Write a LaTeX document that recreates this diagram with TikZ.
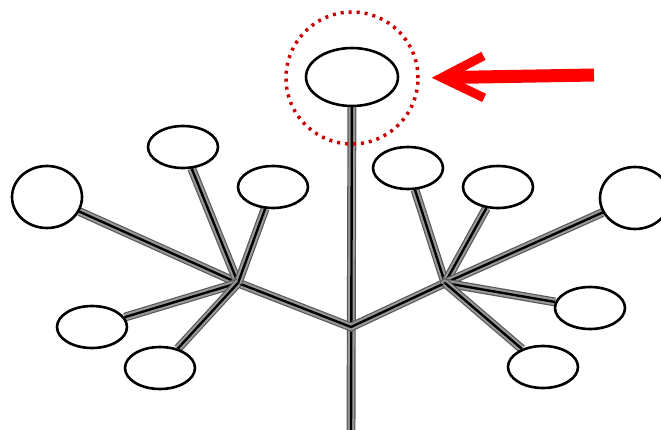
\documentclass[tikz,border=0pt]{standalone}
\usetikzlibrary{shapes.geometric,arrows.meta,backgrounds}

\tikzset{
  bud/.style={ellipse, draw=black, line width=2.6pt, fill=white, inner sep=0pt, minimum width=70pt, minimum height=42pt},
  bigbud/.style={bud, minimum height=62pt},
  stalk/.style={line width=2.4pt, black, preaction={draw=black!65, double=black!40, double distance=6.5pt, line width=1.2pt}},
}

\begin{document}
\begin{tikzpicture}[x=1pt, y=-1pt]

  \clip (0,0) rectangle (661,429);

  % junctions
  \coordinate (jc) at (351,327);
  \coordinate (jl) at (238,283);
  \coordinate (jr) at (445,283);
  \coordinate (foot) at (351,435);

  % buds
  \node[bud, minimum width=92pt, minimum height=58pt] (top) at (352,77) {};
  \node[bigbud] (l1) at (47,197) {};
  \node[bud] (l2) at (183,147) {};
  \node[bud] (l3) at (273,187) {};
  \node[bud] (l4) at (92,327) {};
  \node[bud] (l5) at (160,368) {};
  \node[bud] (r1) at (408,168) {};
  \node[bud] (r2) at (498,187) {};
  \node[bigbud] (r3) at (635,198) {};
  \node[bud] (r4) at (590,308) {};
  \node[bud] (r5) at (543,367) {};

  % stalks
  \begin{scope}[on background layer]
    \draw[stalk, preaction={double distance=8.5pt}] (top) -- (foot);
    \draw[stalk] (jl) -- (jc) -- (jr);
    \foreach \b in {l1,l2,l3,l4,l5}
      \draw[stalk] (jl) -- (\b);
    \foreach \b in {r1,r2,r3,r4,r5}
      \draw[stalk] (jr) -- (\b);
  \end{scope}

  % highlight
  \node[circle, draw=red!80!black, line width=3.5pt, dash pattern=on 3pt off 5pt, minimum size=132pt, inner sep=0pt] (hl) at (352,78) {};
  \coordinate (tail) at (594,75);
  \draw[red, line width=13pt, shorten >=12pt, -{Straight Barb[length=42pt, width=42pt, line width=9pt]}] (tail) -- (hl.east);

\end{tikzpicture}
\end{document}
